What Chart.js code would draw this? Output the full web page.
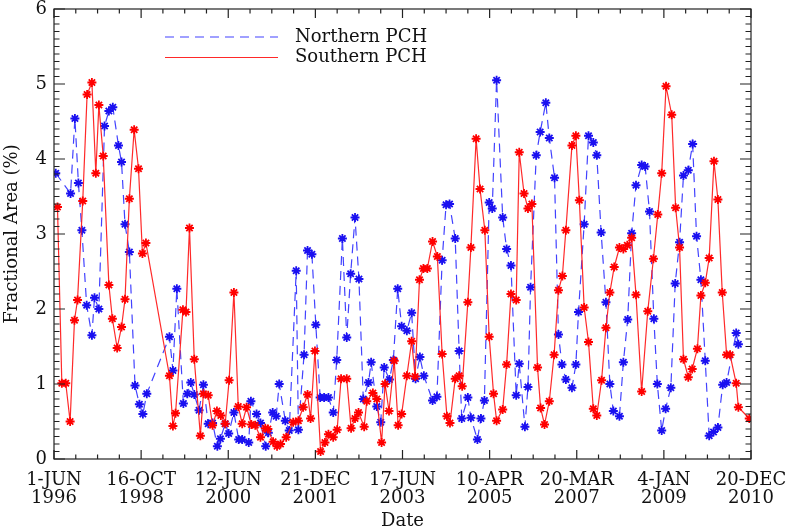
<!DOCTYPE html>
<html>
<head>
<meta charset="utf-8">
<title>Polar coronal hole fractional area</title>
<script src="https://cdn.jsdelivr.net/npm/chart.js@4.4.1/dist/chart.umd.min.js"></script>
<style>
  html, body { margin: 0; padding: 0; background: #fff; }
  #wrap { width: 789px; height: 530px; }
</style>
</head>
<body>
<div id="wrap"><canvas id="pch" width="789" height="530"></canvas></div>
<script>
// sample number along the time axis (20 samples per labelled tick)
const northX = [
  0.4, 3.8, 4.8, 5.6, 6.4, 7.5, 8.7, 9.3, 10.3, 11.6, 12.6, 13.5, 14.8, 15.5, 16.3, 17.3, 18.6, 19.6, 20.4, 21.3,
  26.5, 27.3, 28.2, 29.7, 30.6, 31.4, 32.2, 33.3, 34.3, 35.4, 36.4, 37.5, 38.2, 39.3, 40.1, 41.3, 42.4, 43.2, 44.7, 45.2,
  46.5, 47.4, 48.6, 49.2, 50.2, 51.0, 51.7, 53.1, 54.0, 55.6, 56.1, 57.4, 58.2, 59.2, 60.1, 61.1, 62.0, 63.0, 64.1, 64.9,
  66.2, 67.2, 68.1, 69.1, 70.0, 71.0, 72.2, 72.8, 74.1, 75.0, 75.8, 77.0, 77.9, 78.9, 79.8, 81.0, 82.1, 83.0, 84.0, 84.9,
  86.9, 87.9, 89.1, 90.0, 90.8, 92.1, 93.0, 93.6, 95.0, 95.7, 97.2, 98.0, 98.8, 99.9, 100.6, 101.6, 103.0, 103.9, 104.9, 106.1,
  106.8, 108.1, 108.8, 109.4, 110.7, 111.6, 112.9, 113.7, 114.9, 115.8, 116.6, 117.5, 118.9, 119.8, 120.4, 121.7, 122.7, 123.8, 124.6, 125.6,
  126.7, 127.6, 128.4, 129.8, 130.7, 131.7, 132.6, 133.6, 134.9, 135.7, 136.7, 137.7, 138.5, 139.5, 140.4, 141.6, 142.6, 143.6, 144.5, 145.6,
  146.6, 147.5, 148.5, 149.5, 150.4, 151.4, 152.4, 153.5, 154.4, 156.6, 157.1
];
const northArea = [
  3.81, 3.54, 4.54, 3.68, 3.05, 2.05, 1.65, 2.15, 2.00, 4.44, 4.64, 4.69, 4.18, 3.96, 3.13, 2.76, 0.98, 0.73, 0.60, 0.87,
  1.63, 1.18, 2.27, 0.74, 0.87, 1.02, 0.86, 0.65, 0.99, 0.47, 0.48, 0.17, 0.27, 0.47, 0.34, 0.62, 0.26, 0.26, 0.22, 0.77,
  0.60, 0.48, 0.17, 0.35, 0.62, 0.57, 1.00, 0.51, 0.38, 2.51, 0.39, 1.39, 2.78, 2.73, 1.79, 0.82, 0.82, 0.82, 0.62, 1.32,
  2.94, 1.62, 2.47, 3.22, 2.40, 0.80, 1.02, 1.29, 0.70, 0.49, 1.22, 1.06, 1.32, 2.27, 1.77, 1.71, 1.95, 1.07, 1.36, 1.11,
  0.78, 0.83, 2.65, 3.39, 3.40, 2.94, 1.44, 0.54, 0.82, 0.55, 0.26, 0.54, 0.78, 3.42, 3.34, 5.05, 3.22, 2.80, 2.58, 0.85,
  1.27, 0.43, 0.96, 2.29, 4.05, 4.36, 4.75, 4.28, 3.75, 1.66, 1.26, 1.06, 0.95, 1.26, 1.96, 3.13, 4.31, 4.22, 4.05, 3.02,
  2.09, 1.00, 0.64, 0.57, 1.29, 1.86, 3.01, 3.65, 3.92, 3.90, 3.30, 1.87, 1.00, 0.38, 0.67, 0.95, 2.34, 2.89, 3.78, 3.85,
  4.20, 2.97, 2.39, 1.31, 0.31, 0.36, 0.42, 0.99, 1.02, 1.68, 1.53
];

const southX = [
  0.8, 1.8, 2.7, 3.7, 4.7, 5.4, 6.6, 7.6, 8.7, 9.6, 10.3, 11.3, 12.6, 13.4, 14.5, 15.5, 16.3, 17.3, 18.4, 19.4,
  20.3, 21.1, 26.5, 27.3, 27.9, 29.6, 30.3, 31.1, 32.2, 33.6, 34.3, 35.4, 36.4, 37.4, 38.3, 39.3, 40.2, 41.3, 42.3, 43.2,
  44.2, 45.3, 46.2, 47.4, 48.5, 49.1, 50.3, 51.2, 52.0, 53.3, 54.9, 56.1, 57.2, 58.2, 58.9, 59.9, 61.2, 62.2, 63.0, 64.1,
  65.0, 65.9, 67.2, 68.2, 69.1, 69.9, 71.2, 71.8, 73.2, 74.1, 75.2, 76.0, 76.9, 78.1, 79.0, 79.8, 81.0, 82.1, 82.9, 83.9,
  84.8, 85.7, 86.9, 88.0, 89.1, 90.2, 90.9, 92.1, 93.0, 93.7, 95.0, 95.7, 96.9, 97.8, 98.9, 99.9, 100.9, 101.6, 103.0, 103.9,
  104.9, 106.1, 106.8, 107.9, 108.8, 109.7, 111.0, 111.7, 112.6, 113.7, 114.8, 115.8, 116.7, 117.5, 118.9, 119.8, 120.6, 121.7, 122.7, 123.8,
  124.6, 125.7, 126.7, 127.6, 128.6, 129.8, 130.7, 131.6, 132.6, 133.6, 134.9, 136.3, 137.6, 138.6, 139.5, 140.5, 141.8, 142.7, 143.6, 144.5,
  145.6, 146.5, 147.7, 148.5, 149.5, 150.4, 151.5, 152.4, 153.4, 154.4, 155.2, 156.6, 157.1, 159.6
];
const southArea = [
  3.36, 1.01, 1.01, 0.50, 1.85, 2.12, 3.44, 4.86, 5.02, 3.81, 4.72, 4.04, 2.32, 1.87, 1.48, 1.76, 2.13, 3.47, 4.39, 3.87,
  2.74, 2.88, 1.11, 0.44, 0.61, 1.99, 1.96, 3.08, 1.33, 0.31, 0.87, 0.85, 0.45, 0.64, 0.58, 0.47, 1.05, 2.22, 0.70, 0.47,
  0.69, 0.46, 0.45, 0.29, 0.41, 0.40, 0.23, 0.17, 0.20, 0.29, 0.49, 0.51, 0.69, 0.86, 0.54, 1.44, 0.10, 0.22, 0.33, 0.29,
  0.39, 1.07, 1.07, 0.41, 0.54, 0.62, 0.43, 0.77, 0.88, 0.80, 0.22, 1.00, 0.64, 1.31, 0.45, 0.60, 1.11, 1.57, 1.10, 2.39,
  2.54, 2.54, 2.90, 2.70, 1.40, 0.57, 0.48, 1.07, 1.11, 0.97, 2.09, 2.82, 4.27, 3.60, 3.05, 1.63, 0.87, 0.51, 0.66, 1.26,
  2.20, 2.12, 4.09, 3.54, 3.34, 3.40, 1.22, 0.68, 0.46, 0.77, 1.39, 2.25, 2.44, 3.05, 4.18, 4.31, 3.45, 2.02, 1.56, 0.67,
  0.58, 1.05, 1.75, 2.22, 2.56, 2.82, 2.80, 2.85, 2.95, 2.19, 0.90, 1.97, 2.67, 3.26, 3.81, 4.97, 4.59, 3.35, 2.82, 1.33,
  1.09, 1.20, 1.47, 2.18, 2.35, 2.68, 3.97, 3.46, 2.22, 1.39, 1.39, 1.01, 0.69, 0.54
];

// one date label every 20 samples
const tickDates = [
  ["1-JUN", "1996"], ["16-OCT", "1998"], ["12-JUN", "2000"], ["21-DEC", "2001"], ["17-JUN", "2003"],
  ["10-APR", "2005"], ["20-MAR", "2007"], ["4-JAN", "2009"], ["20-DEC", "2010"]
];
const seriesNames = ["Northern PCH", "Southern PCH"];

const FONT = "DejaVu Serif";
const INK = "#111";

const toPoints = (xs, ys) => xs.map((x, i) => ({ x: x, y: ys[i] }));

// IDL style box: inward ticks on all four sides + legend in the upper left
const idlFrame = {
  id: "idlFrame",
  afterDraw(chart) {
    const { ctx, chartArea: a, scales: { x, y } } = chart;
    ctx.save();
    ctx.strokeStyle = "#222";
    ctx.lineWidth = 1.2;
    ctx.strokeRect(a.left, a.top, a.right - a.left, a.bottom - a.top);

    ctx.beginPath();
    for (let v = 0; v <= 160; v += 5) {
      const px = x.getPixelForValue(v);
      const len = v % 20 === 0 ? 9 : 4.5;
      ctx.moveTo(px, a.bottom); ctx.lineTo(px, a.bottom - len);
      ctx.moveTo(px, a.top); ctx.lineTo(px, a.top + len);
    }
    for (let k = 0; k <= 60; k++) {
      const py = y.getPixelForValue(k / 10);
      const len = k % 10 === 0 ? 11 : 5.5;
      ctx.moveTo(a.left, py); ctx.lineTo(a.left + len, py);
      ctx.moveTo(a.right, py); ctx.lineTo(a.right - len, py);
    }
    ctx.stroke();

    // legend
    const x0 = 165, x1 = 278, tx = 295;
    const rows = [37, 57.5];
    chart.data.datasets.forEach((ds, i) => {
      ctx.beginPath();
      ctx.strokeStyle = ds.borderColor;
      ctx.lineWidth = ds.borderWidth;
      ctx.setLineDash(ds.borderDash || []);
      ctx.moveTo(x0, rows[i]);
      ctx.lineTo(x1, rows[i]);
      ctx.stroke();
      ctx.setLineDash([]);
      ctx.fillStyle = INK;
      ctx.font = "18px '" + FONT + "'";
      ctx.textBaseline = "middle";
      ctx.textAlign = "left";
      ctx.fillText(ds.label, tx, rows[i]);
    });
    ctx.restore();
  }
};

new Chart(document.getElementById("pch"), {
  type: "line",
  data: {
    datasets: [
      {
        label: seriesNames[0],
        data: toPoints(northX, northArea),
        borderColor: "rgba(45, 45, 255, 0.9)",
        borderWidth: 1.2,
        borderDash: [9, 6],
        pointStyle: "star",
        pointRadius: 4.5,
        pointBorderWidth: 1.8,
        pointBorderColor: "#1a10f0",
        pointBackgroundColor: "#1a10f0",
        tension: 0,
        fill: false,
        order: 1
      },
      {
        label: seriesNames[1],
        data: toPoints(southX, southArea),
        borderColor: "rgba(255, 30, 30, 0.95)",
        borderWidth: 1.2,
        pointStyle: "star",
        pointRadius: 4.5,
        pointBorderWidth: 1.8,
        pointBorderColor: "#ff0000",
        pointBackgroundColor: "#ff0000",
        tension: 0,
        fill: false,
        order: 0
      }
    ]
  },
  options: {
    responsive: false,
    animation: false,
    layout: { padding: { left: 0, top: 9, right: 38, bottom: 0 } },
    plugins: {
      legend: { display: false },
      tooltip: { enabled: false }
    },
    scales: {
      x: {
        type: "linear",
        min: 0,
        max: 160,
        grid: { display: false, drawTicks: false },
        border: { display: false },
        ticks: {
          stepSize: 20,
          padding: 12,
          maxRotation: 0,
          autoSkip: false,
          color: INK,
          font: { family: FONT, size: 18, lineHeight: 1.03 },
          callback: (v) => tickDates[Math.round(v / 20)]
        },
        title: {
          display: true,
          text: "Date",
          color: INK,
          font: { family: FONT, size: 18, lineHeight: 0.95 },
          padding: { top: 0, bottom: 0 }
        },
        afterFit: (s) => { s.height = 71; s.paddingLeft = 0; s.paddingRight = 0; }
      },
      y: {
        min: 0,
        max: 6,
        grid: { display: false, drawTicks: false },
        border: { display: false },
        ticks: {
          stepSize: 1,
          padding: 7,
          color: INK,
          font: { family: FONT, size: 18 }
        },
        title: {
          display: true,
          text: "Fractional Area (%)",
          color: INK,
          font: { family: FONT, size: 18, lineHeight: 1.2 },
          padding: { top: 2, bottom: 0 }
        },
        afterFit: (s) => { s.width = 54; s.paddingTop = 0; s.paddingBottom = 0; }
      }
    }
  },
  plugins: [idlFrame]
});
</script>
</body>
</html>
